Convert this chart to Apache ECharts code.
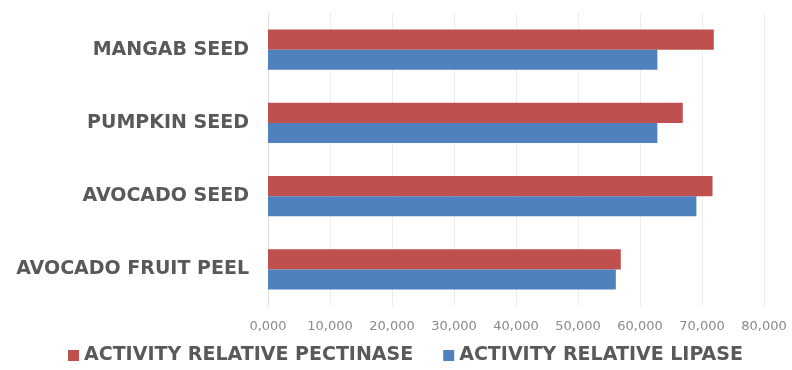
<!DOCTYPE html>
<html>
<head>
<meta charset="utf-8">
<script src="https://cdn.jsdelivr.net/npm/echarts@6/dist/echarts.min.js"></script>
<style>html,body{margin:0;padding:0;background:#fff;}#c{width:792px;height:370px;}</style>
</head>
<body>
<div id="c"></div>
<script>
var categories = ['AVOCADO FRUIT PEEL', 'AVOCADO SEED', 'PUMPKIN SEED', 'MANGAB SEED'];
var pectinase = [56.9, 71.7, 66.9, 71.9];
var lipase = [56.1, 69.1, 62.8, 62.8];
var tickLabels = ['0,000', '10,000', '20,000', '30,000', '40,000', '50,000', '60,000', '70,000', '80,000'];
var seriesNames = ['ACTIVITY RELATIVE PECTINASE', 'ACTIVITY RELATIVE LIPASE'];

var chart = echarts.init(document.getElementById('c'));
chart.setOption({
  animation: false,
  grid: {left: 268, right: 28, top: 13, bottom: 64, containLabel: false},
  legend: {
    data: seriesNames,
    left: 68, top: 346, padding: 0,
    itemWidth: 11, itemHeight: 11, itemGap: 30,
    icon: 'rect',
    textStyle: {fontFamily: 'DejaVu Sans', fontWeight: 'bold', fontSize: 19, color: '#595959', padding: [0,0,0,0]}
  },
  xAxis: {
    type: 'value', min: 0, max: 80, interval: 10,
    axisLine: {show: false}, axisTick: {show: false},
    splitLine: {lineStyle: {color: '#ececec', width: 1}},
    axisLabel: {
      fontFamily: 'DejaVu Sans', fontSize: 13, color: '#8a8a8a', margin: 14,
      formatter: function (v) { return tickLabels[Math.round(v / 10)]; }
    }
  },
  yAxis: {
    type: 'category', data: categories,
    axisLine: {lineStyle: {color: '#e0e0e0'}}, axisTick: {show: false},
    axisLabel: {fontFamily: 'DejaVu Sans', fontWeight: 'bold', fontSize: 19, color: '#595959', margin: 19}
  },
  series: [
    {name: seriesNames[0], type: 'bar', data: pectinase, itemStyle: {color: '#C0504D'}, barGap: '0%', barCategoryGap: '45%'},
    {name: seriesNames[1], type: 'bar', data: lipase, itemStyle: {color: '#4F81BD'}, barGap: '0%', barCategoryGap: '45%'}
  ]
});
</script>
</body>
</html>
